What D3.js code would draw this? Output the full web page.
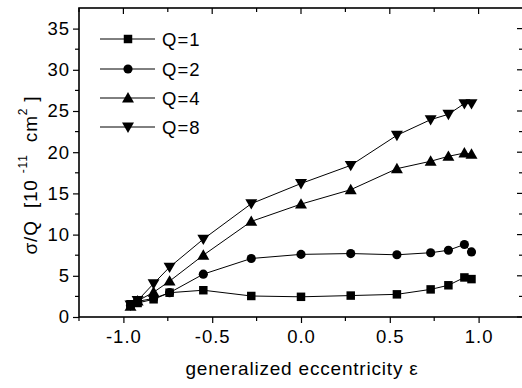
<!DOCTYPE html>
<html>
<head>
<meta charset="utf-8">
<script src="https://cdn.jsdelivr.net/npm/d3@7"></script>
<style>
body { margin: 0; background: #fff; }
text { font-family: "Liberation Sans", Arial, sans-serif; fill: #000; }
</style>
</head>
<body>
<script>
var width = 522,
    height = 388,
    marginLeft = 79,
    marginRight = -1,
    marginTop = 8,
    marginBottom = 71
;

// data
var eps = [-0.96, -0.92, -0.83, -0.74, -0.55, -0.28, 0.0, 0.28, 0.54, 0.73, 0.83, 0.92, 0.96];
var q1 = [1.55, 1.7, 2.15, 2.95, 3.25, 2.55, 2.45, 2.6, 2.75, 3.35, 3.85, 4.8, 4.6];
var q2 = [1.4, 1.9, 2.25, 2.95, 5.2, 7.1, 7.6, 7.7, 7.55, 7.8, 8.1, 8.8, 7.9];
var q4 = [1.3, 1.95, 3.0, 4.35, 7.5, 11.6, 13.7, 15.45, 18.0, 18.9, 19.5, 19.9, 19.75];
var q8 = [1.45, 2.0, 4.05, 6.05, 9.45, 13.75, 16.2, 18.4, 22.05, 23.95, 24.6, 25.9, 25.9];
var seriesNames = ["Q=1", "Q=2", "Q=4", "Q=8"];
var seriesValues = [q1, q2, q4, q8];
var seriesSymbols = [d3.symbolSquare, d3.symbolCircle, d3.symbolTriangle, "down"];
var xTicks = [-1.0, -0.5, 0.0, 0.5, 1.0];
var yTicks = [0, 5, 10, 15, 20, 25, 30, 35];

var svg = d3.select("body").append("svg")
    .attr("width", width)
    .attr("height", height)
;

var x = d3.scaleLinear()
    .domain([-1.25, 1.25])
    .range([marginLeft, width - marginRight])
;
var y = d3.scaleLinear()
    .domain([0, 37.5])
    .range([height - marginBottom, marginTop])
;

var minorX = d3.range(-1.25, 1.26, 0.25).filter(d => Math.abs(d * 2 - Math.round(d * 2)) > 0.01);
var minorY = d3.range(2.5, 37.5, 5);

// frame
svg.append("rect")
    .attr("x", x(-1.25))
    .attr("y", y(37.5))
    .attr("width", x(1.25) - x(-1.25))
    .attr("height", y(0) - y(37.5))
    .attr("fill", "none")
    .attr("stroke", "#000")
    .attr("stroke-width", 1.6)
;

// bottom axis
var xAxis = d3.axisBottom(x)
    .tickValues(xTicks)
    .tickSize(6)
    .tickPadding(4)
;
var gx = svg.append("g")
    .attr("transform", `translate(0,${y(0)})`)
    .call(xAxis);
gx.select(".domain").remove();
gx.selectAll("text").attr("font-size", 18.5).attr("letter-spacing", 1).attr("dy", "0.85em")
    .text(d => d3.format(".1f")(d).replace("−", "-"));
gx.selectAll("line").attr("stroke-width", 1.2);

gx.selectAll(".minor").data(minorX).enter().append("line")
    .attr("x1", d => x(d)).attr("x2", d => x(d))
    .attr("y1", 0).attr("y2", 4)
    .attr("stroke", "#000").attr("stroke-width", 1.2);

// left axis
var yAxis = d3.axisLeft(y)
    .tickValues(yTicks)
    .tickSize(6)
    .tickPadding(3)
;
var gy = svg.append("g")
    .attr("transform", `translate(${x(-1.25)},0)`)
    .call(yAxis);
gy.select(".domain").remove();
gy.selectAll("text").attr("font-size", 18.5).attr("letter-spacing", 1);
gy.selectAll("line").attr("stroke-width", 1.2);
gy.selectAll(".minor").data(minorY).enter().append("line")
    .attr("x1", 0).attr("x2", -4)
    .attr("y1", d => y(d)).attr("y2", d => y(d))
    .attr("stroke", "#000").attr("stroke-width", 1.2);

// top axis, ticks inward
svg.append("g").selectAll("line").data(xTicks.concat(minorX)).enter().append("line")
    .attr("x1", d => x(d)).attr("x2", d => x(d))
    .attr("y1", y(37.5)).attr("y2", d => y(37.5) + (xTicks.indexOf(d) >= 0 ? 6 : 4))
    .attr("stroke", "#000").attr("stroke-width", 1.2);

// right axis, ticks inward
svg.append("g").selectAll("line").data(yTicks.concat(minorY)).enter().append("line")
    .attr("x1", x(1.25)).attr("x2", d => x(1.25) - (yTicks.indexOf(d) >= 0 ? 6 : 4))
    .attr("y1", d => y(d)).attr("y2", d => y(d))
    .attr("stroke", "#000").attr("stroke-width", 1.2);

// symbols
function marker(sel, s) {
    if (s === "down") {
        sel.attr("d", d3.symbol().type(d3.symbolTriangle).size(62))
           .attr("transform", function () { return d3.select(this).attr("transform") + " rotate(180)"; });
    } else if (s === d3.symbolTriangle) {
        sel.attr("d", d3.symbol().type(s).size(62));
    } else if (s === d3.symbolSquare) {
        sel.attr("d", d3.symbol().type(s).size(72));
    } else {
        sel.attr("d", d3.symbol().type(s).size(66));
    }
}

var line = d3.line()
    .x(d => x(d[0]))
    .y(d => y(d[1]))
;

for (i = 0; i < seriesValues.length; i++) {
    var pts = eps.map((e, j) => [e, seriesValues[i][j]]);
    svg.append("path")
        .datum(pts)
        .attr("d", line)
        .attr("fill", "none")
        .attr("stroke", "#000")
        .attr("stroke-width", 1)
    ;
    var sy = seriesSymbols[i];
    var dy = sy === "down" ? -1 : (sy === d3.symbolTriangle ? 1 : 0);
    svg.append("g").selectAll("path").data(pts).enter().append("path")
        .attr("transform", d => `translate(${x(d[0])},${y(d[1]) + dy})`)
        .attr("fill", "#000")
        .call(marker, sy)
    ;
}

// legend
var legendY = [39, 69, 98, 127];
for (i = 0; i < seriesNames.length; i++) {
    svg.append("line")
        .attr("x1", 100).attr("x2", 155)
        .attr("y1", legendY[i]).attr("y2", legendY[i])
        .attr("stroke", "#000").attr("stroke-width", 1);
    var sy = seriesSymbols[i];
    var dy = sy === "down" ? -1 : (sy === d3.symbolTriangle ? 1 : 0);
    svg.append("path")
        .attr("transform", `translate(128,${legendY[i] + dy})`)
        .attr("fill", "#000")
        .call(marker, sy);
    svg.append("text")
        .attr("x", 162)
        .attr("y", legendY[i] + 6.5)
        .attr("font-size", 18.5)
        .attr("letter-spacing", 1)
        .text(seriesNames[i]);
}

// axis titles
svg.append("text")
    .attr("x", 302)
    .attr("y", 375)
    .attr("text-anchor", "middle")
    .attr("font-size", 19)
    .attr("letter-spacing", 0.8)
    .text("generalized eccentricity \u03b5");

var yl = svg.append("text")
    .attr("transform", "translate(37,175) rotate(-90)")
    .attr("text-anchor", "middle")
    .attr("font-size", 19)
    .attr("letter-spacing", 0.8)
    .style("white-space", "pre");
yl.append("tspan").text("\u03c3/Q  [10 ");
yl.append("tspan").attr("font-size", 12).attr("dy", -10).text("-11");
yl.append("tspan").attr("dy", 10).text("  cm");
yl.append("tspan").attr("font-size", 12).attr("dy", -10).text("2");
yl.append("tspan").attr("dy", 10).text(" ]");
</script>
</body>
</html>
